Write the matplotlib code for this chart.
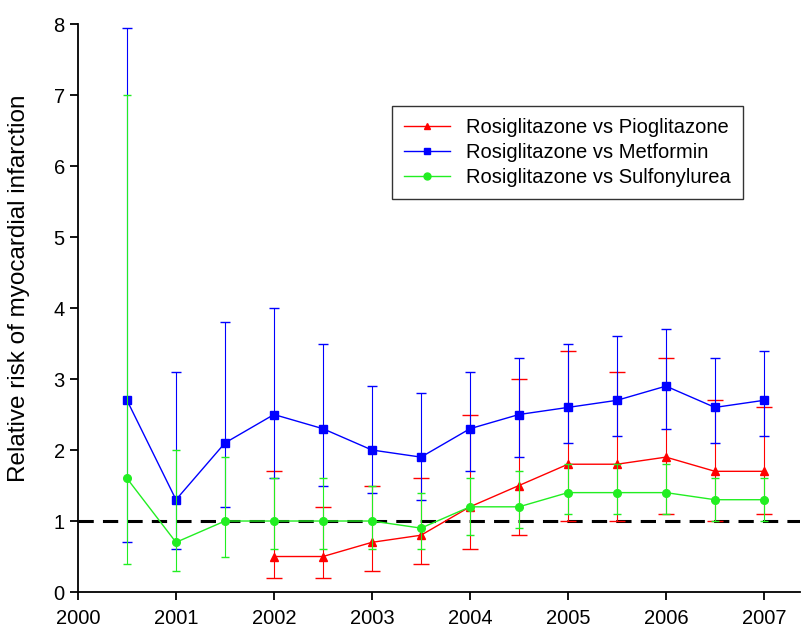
import matplotlib.pyplot as plt
from matplotlib.lines import Line2D
import numpy as np

plt.rcParams['font.family'] = ['Liberation Sans', 'DejaVu Sans']

# half-year time points
x_all = [2000.5, 2001, 2001.5, 2002, 2002.5, 2003, 2003.5,
         2004, 2004.5, 2005, 2005.5, 2006, 2006.5, 2007]
x_pio = x_all[3:]

# Rosiglitazone vs Pioglitazone
pio = [0.5, 0.5, 0.7, 0.8, 1.2, 1.5, 1.8, 1.8, 1.9, 1.7, 1.7]
pio_lo = [0.2, 0.2, 0.3, 0.4, 0.6, 0.8, 1.0, 1.0, 1.1, 1.0, 1.1]
pio_hi = [1.7, 1.2, 1.5, 1.6, 2.5, 3.0, 3.4, 3.1, 3.3, 2.7, 2.6]

# Rosiglitazone vs Metformin
met = [2.7, 1.3, 2.1, 2.5, 2.3, 2.0, 1.9, 2.3, 2.5, 2.6, 2.7, 2.9, 2.6, 2.7]
met_lo = [0.7, 0.6, 1.2, 1.6, 1.5, 1.4, 1.3, 1.7, 1.9, 2.1, 2.2, 2.3, 2.1, 2.2]
met_hi = [7.95, 3.1, 3.8, 4.0, 3.5, 2.9, 2.8, 3.1, 3.3, 3.5, 3.6, 3.7, 3.3, 3.4]

# Rosiglitazone vs Sulfonylurea
sul = [1.6, 0.7, 1.0, 1.0, 1.0, 1.0, 0.9, 1.2, 1.2, 1.4, 1.4, 1.4, 1.3, 1.3]
sul_lo = [0.4, 0.3, 0.5, 0.6, 0.6, 0.6, 0.6, 0.8, 0.9, 1.1, 1.1, 1.1, 1.0, 1.0]
sul_hi = [7.0, 2.0, 1.9, 1.6, 1.6, 1.5, 1.4, 1.6, 1.7, 1.8, 1.8, 1.8, 1.6, 1.6]

fig = plt.figure(figsize=(8.01, 6.29), dpi=100)
ax = fig.add_axes([0.0974, 0.0588, 0.9016, 0.903])

ax.axhline(1, color='black', lw=2.2, ls=(0, (5, 3)), zorder=1)

series = [
    (x_pio, pio, pio_lo, pio_hi, '#ff0000', '^', 5.5, 'Rosiglitazone vs Pioglitazone'),
    (x_all, met, met_lo, met_hi, '#0000ff', 's', 3.5, 'Rosiglitazone vs Metformin'),
    (x_all, sul, sul_lo, sul_hi, '#22ee22', 'o', 3.2, 'Rosiglitazone vs Sulfonylurea'),
]
handles = []
for i, (x, y, lo, hi, col, mk, cap, lab) in enumerate(series):
    y = np.array(y)
    err = [y - np.array(lo), np.array(hi) - y]
    ax.errorbar(x, y, yerr=err, color=col, marker=mk, ms=5.5, lw=1,
                elinewidth=0.8, capsize=cap, capthick=1, zorder=2 + i)
    handles.append(Line2D([], [], color=col, marker=mk, ms=5, lw=1, label=lab))

ax.set_xlim(2000, 2007.37)
ax.set_ylim(0, 8)
ax.set_xticks(range(2000, 2008))
ax.set_yticks(range(0, 9))
ax.spines['top'].set_visible(False)
ax.spines['right'].set_visible(False)
ax.spines['left'].set_linewidth(1.3)
ax.spines['bottom'].set_linewidth(1.3)
ax.tick_params(direction='out', length=6, width=1.3, labelsize=14.5)
ax.tick_params(axis='x', pad=6)
ax.set_ylabel('Relative risk of myocardial infarction', fontsize=17.5)
ax.yaxis.set_label_coords(-0.066, 0.535)

leg = ax.legend(handles=handles, loc='upper left', bbox_to_anchor=(0.489, 0.8315),
                bbox_transform=fig.transFigure, fontsize=14.5, frameon=True,
                fancybox=False, edgecolor='black', handlelength=2.3,
                borderpad=0.6, labelspacing=0.3, borderaxespad=0)
leg.get_frame().set_linewidth(1)

fig.savefig('out.png', dpi=100)
